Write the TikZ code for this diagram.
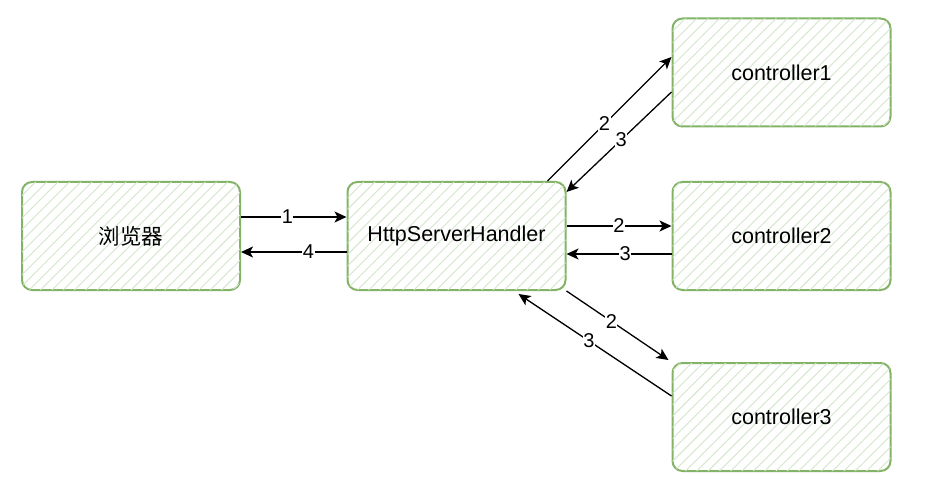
\documentclass[tikz,border=0pt]{standalone}
\usepackage{fontspec}
\setmainfont{Liberation Sans}
\newfontfamily\cjk{Noto Sans CJK SC}
\usepackage{tikz}
\usetikzlibrary{arrows.meta, patterns.meta}
\definecolor{boxline}{HTML}{82B366}
\definecolor{hatch}{HTML}{D2E6CB}
\tikzset{
  box/.style = {draw=boxline, line width=2pt, rounded corners=10pt,
                minimum width=218pt, minimum height=108pt, align=center,
                font=\fontsize{21.5}{25}\selectfont, fill=white,
                postaction={pattern={Lines[angle=45,distance=8pt,line width=0.9pt]},
                            pattern color=hatch}},
  fl/.style  = {-{Stealth[length=12pt,width=11pt,inset=3pt]}, line width=1.3pt},
  num/.style = {fill=white, inner sep=0.5pt, font=\fontsize{20}{22}\selectfont},
}
\begin{document}
\begin{tikzpicture}[x=1pt, y=-1pt]
  \useasboundingbox (0,0) rectangle (926,489);
  \node[box] (browser) at (131,236)   {\cjk 浏览器};
  \node[box] (handler) at (456.5,236) {HttpServerHandler};
  \node[box] (ctrlA)   at (781.5,72.5) {controller1};
  \node[box] (ctrlB)   at (781.5,236)  {controller2};
  \node[box] (ctrlC)   at (781.5,417)  {controller3};
  % browser <-> handler
  \draw[fl] ([yshift=19pt]browser.east) -- node[num, pos=0.44]{1} ([yshift=19pt]handler.west);
  \draw[fl] ([yshift=-16pt]handler.west) -- node[num, pos=0.36]{4} ([yshift=-16pt]browser.east);
  % handler <-> controller1
  \draw[fl] ([xshift=-19pt]handler.north east) -- node[num, pos=0.46]{2} ([yshift=15.5pt]ctrlA.west);
  \draw[fl] ([yshift=-19.5pt]ctrlA.west) -- node[num, pos=0.48]{3} ([yshift=-11pt]handler.north east);
  % handler <-> controller2
  \draw[fl] ([yshift=10pt]handler.east) -- node[num, pos=0.5]{2} ([yshift=10pt]ctrlB.west);
  \draw[fl] ([yshift=-18pt]ctrlB.west) -- node[num, pos=0.44]{3} ([yshift=-18pt]handler.east);
  % handler <-> controller3
  \draw[fl] (handler.south east) -- node[num, pos=0.44]{2} ([xshift=-3pt,yshift=2pt]ctrlC.north west);
  \draw[fl] ([yshift=21pt]ctrlC.west) -- node[num, pos=0.54]{3} ([xshift=-48pt,yshift=-3pt]handler.south east);
\end{tikzpicture}
\end{document}
